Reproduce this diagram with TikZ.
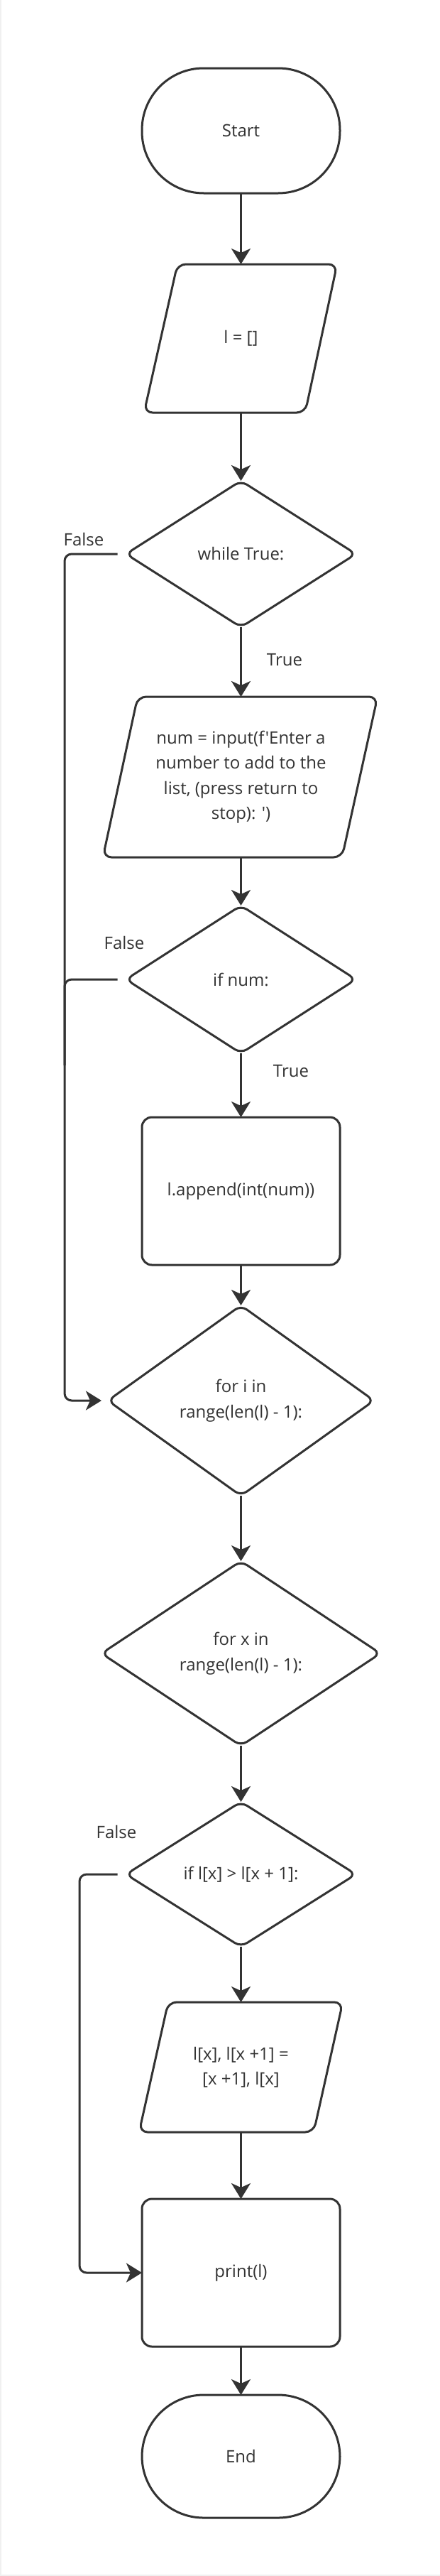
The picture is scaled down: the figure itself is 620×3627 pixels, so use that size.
\documentclass[tikz,border=0pt]{standalone}
\usepackage{fontspec}
\setmainfont{Open Sans}[Ligatures=TeXOff]
\usetikzlibrary{shapes.geometric,arrows.meta}
\definecolor{ink}{HTML}{333333}
\definecolor{edge}{HTML}{F0F0F0}
\tikzset{
  base/.style={outer sep=0pt, inner sep=0pt, align=center, text=ink,
    font=\fontsize{24}{35.5}\selectfont},
  term/.style={base, draw=ink, line width=3pt, rectangle, rounded corners=87pt,
    minimum width=279pt, minimum height=176pt},
  procbox/.style={base, draw=ink, line width=3pt, rectangle, rounded corners=14pt,
    minimum width=279pt, minimum height=208pt},
  decision/.style={base, draw=ink, line width=3pt, diamond, rounded corners=10pt},
  holder/.style={base, rectangle, minimum width=10pt},
  parashape/.style={draw=ink, line width=3pt, rounded corners=12pt, line join=round},
  flow/.style={draw=ink, line width=3pt, -{Stealth[length=22pt,width=27pt,inset=6pt]}},
  rail/.style={draw=ink, line width=3pt, rounded corners=10pt},
  lbl/.style={base}
}
\begin{document}
\begin{tikzpicture}[x=1pt,y=-1pt]
\useasboundingbox (0,0) rectangle (620,3627);
\fill[white] (0,0) rectangle (620,3627);
\fill[edge] (0,0) rectangle (1.5,3627);
\fill[edge] (0,3625) rectangle (620,3627);

% Start
\node[term] (start) at (339.5,184) {Start};

% l = []
\draw[parashape] (250,372) -- (475,372) -- (430,581) -- (203,581) -- cycle;
\node[holder, minimum height=209pt] (init) at (339.5,476.5) {l = []};

% while True
\node[decision, minimum width=324pt, minimum height=206pt] (while) at (339.5,780) {while True:};

% input
\draw[parashape] (194,981) -- (532,981) -- (482,1207) -- (145,1207) -- cycle;
\node[holder, minimum height=226pt] (input) at (339.5,1094) {num = input(f'Enter a\\ number to add to the\\ list, (press return to\\ stop): ')};

% if num
\node[decision, minimum width=324pt, minimum height=208pt] (ifnum) at (339.5,1379) {if num:};

% append
\node[procbox] (append) at (339.5,1677) {l.append(int(num))};

% for i
\node[decision, minimum width=375pt, minimum height=268pt] (fori) at (339.5,1972) {for i in\\ range(len(l) - 1):};

% for x
\node[decision, minimum width=393pt, minimum height=260pt] (forx) at (339.5,2328) {for x in\\ range(len(l) - 1):};

% if l[x] > l[x+1]
\node[decision, minimum width=324pt, minimum height=204pt] (ifl) at (339.5,2639) {if l[x] > l[x + 1]:};

% swap
\draw[parashape] (237,2819) -- (483,2819) -- (442,3002) -- (196,3002) -- cycle;
\node[holder, minimum height=183pt] (swap) at (339.5,2910.5) {l[x], l[x +1] =\\{}[x +1], l[x]};

% print
\node[procbox] (print) at (339.5,3200) {print(l)};

% End
\node[term, minimum height=173pt] (end) at (339.5,3458.5) {End};

% rails
\coordinate (railA) at (91,1500);
\coordinate (railB) at (112,2900);

% main connectors
\draw[flow] (start.south) -- (init.north);
\draw[flow] (init.south) -- (while.north);
\draw[flow] (while.south) -- (input.north);
\draw[flow] (input.south) -- (ifnum.north);
\draw[flow] (ifnum.south) -- (append.north);
\draw[flow] (append.south) -- (fori.north);
\draw[flow] (fori.south) -- (forx.north);
\draw[flow] (forx.south) -- (ifl.north);
\draw[flow] (ifl.south) -- (swap.north);
\draw[flow] (swap.south) -- (print.north);
\draw[flow] (print.south) -- (end.north);

% false branches
\draw[rail] ([xshift=-12pt]ifnum.west) -| (railA);
\draw[rail, flow] ([xshift=-12pt]while.west) -| (railA) |- ([xshift=-9pt]fori.west);
\draw[rail, flow] ([xshift=-12pt]ifl.west) -| (railB) |- (print.west);

% labels
\node[lbl] (f1) at (118,759) {False};
\node[lbl] (t1) at (401,929) {True};
\node[lbl] (f2) at (175,1327) {False};
\node[lbl] (t2) at (410,1508) {True};
\node[lbl] (f3) at (164,2579) {False};
\end{tikzpicture}
\end{document}
